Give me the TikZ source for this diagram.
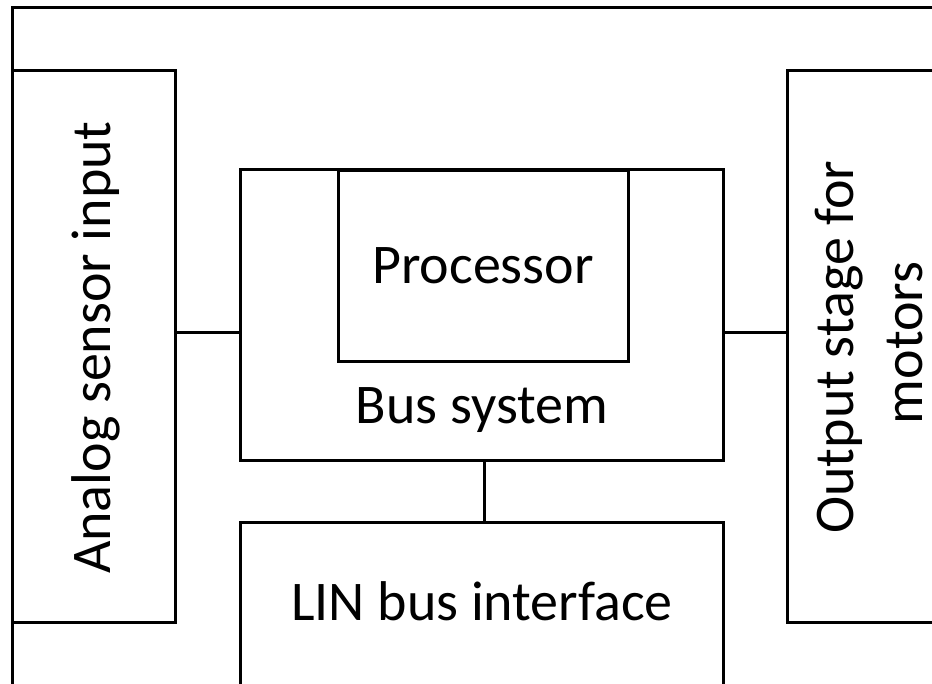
\documentclass[tikz,border=0pt]{standalone}
\usepackage{fontspec}
\setmainfont{Carlito}
\begin{document}
\begin{tikzpicture}[x=1bp,y=-1bp,
  box/.style={draw=black,line width=3bp,line join=miter,minimum width=#1,inner sep=0pt,outer sep=0pt},
  lbl/.style={inner sep=0pt,outer sep=0pt,font=\fontsize{56bp}{68bp}\selectfont},
  conn/.style={draw=black,line width=3bp}]
\useasboundingbox[fill=white] (0,0) rectangle (932,684);
\clip (0,0) rectangle (932,684);
% outer frame
\node[box=967bp,minimum height=712bp] (frame) at (496.5,364) {};
% blocks
\node[box=162bp,minimum height=551bp] (analog) at (94,346.5) {};
\node[box=162bp,minimum height=551bp] (output) at (868,346.5) {};
\node[box=483bp,minimum height=290bp] (bus) at (481.5,315) {};
\node[box=290bp,minimum height=191bp,anchor=north] (proc) at (483,170) {};
\node[box=483bp,minimum height=200bp,anchor=north] (lin) at (481.5,522) {};
% labels
\node[lbl] (proct) at (proc.center) {Processor};
\node[lbl] (bust) at (482,410) {Bus system};
\node[lbl,anchor=base] (lint) at (482,620) {LIN bus interface};
\node[lbl,anchor=base,rotate=90] (analogt) at (110,347.5) {Analog sensor input};
\node[lbl,anchor=base,rotate=90] (outt1) at (853,347) {Output stage for};
\node[lbl,anchor=base,rotate=90] (outt2) at (922,343) {motors};
% connectors
\draw[conn] (analog.east |- 0,332) -- (bus.west |- 0,332);
\draw[conn] (bus.east |- 0,332) -- (output.west |- 0,332);
\draw[conn] (bus.south -| 484,0) -- (lin.north -| 484,0);
\end{tikzpicture}
\end{document}
